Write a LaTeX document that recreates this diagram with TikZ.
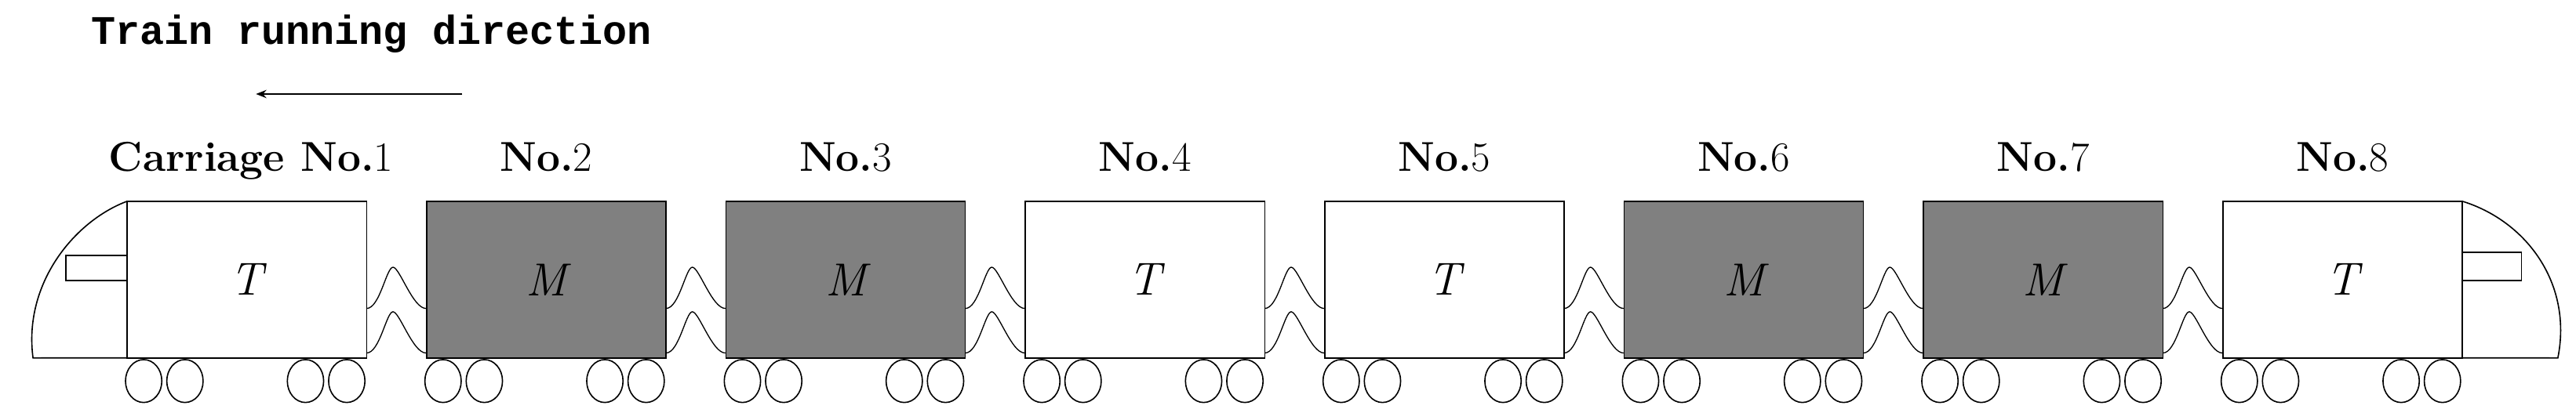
\documentclass[tikz,border=0pt]{standalone}
\usepackage{fontspec}
\newfontfamily\monofont{Liberation Mono}
\usetikzlibrary{positioning,calc,arrows.meta}
\tikzset{
  car/.style={draw, line width=1.1pt, outer sep=0pt, minimum width=7.25cm, minimum height=4.75cm, anchor=north west, inner sep=0pt, font=\fontsize{40}{44}\selectfont\itshape},
  motor/.style={car, fill=gray},
  trailer/.style={car, fill=white},
  wheel/.style={draw, line width=1.1pt},
  label/.style={font=\fontsize{36}{40}\selectfont\bfseries, anchor=base},
}
\begin{document}
\begin{tikzpicture}[x=0.05cm,y=-0.05cm]
  \useasboundingbox (0,0) rectangle (1560,254.2);
  % title and arrow
  \node[anchor=base west, inner sep=0pt, font=\monofont\bfseries\fontsize{35}{38}\selectfont] (title) at (55,27) {Train running direction};
  \coordinate (arrS) at (280,57);
  \coordinate (arrE) at (155,57);
  \draw[-{Stealth[length=9pt,width=7pt]}, line width=1.8pt] (arrS) -- (arrE);
  % carriages
  \foreach \i/\kind/\txt in {1/trailer/T,2/motor/M,3/motor/M,4/trailer/T,5/trailer/T,6/motor/M,7/motor/M,8/trailer/T}{
    \node[\kind] (c\i) at ({77+(\i-1)*181.3},122) {\txt};
    \foreach \dx in {10,35,108,133}
      \draw[wheel] ($(c\i.south west)+(\dx,14)$) ellipse [x radius=11, y radius=13];
  }
  % carriage labels
  \node[label] (l1) at (152,104) {Carriage No.\textmd{1}};
  \foreach \i in {2,...,8}
    \node[label] (l\i) at ($(c\i.north)+(0,-18)$) {No.\textmd{\i}};
  % couplers
  \foreach \i [evaluate=\i as \j using int(\i+1)] in {1,...,7}
    \foreach \dy in {30,3}{
      \coordinate (a) at ($(c\i.south east)+(0,-\dy)$);
      \draw[line width=0.9pt] (a) .. controls +(8,0) and +(-4,0) .. ++(16,-25)
        .. controls +(4,0) and +(-8,0) .. ++(20,25);
    }
  % noses
  \draw[line width=1.1pt] (c1.north west) .. controls (45,134) and (14,172) .. (20,217) -- (c1.south west);
  \draw[line width=1.1pt] (40,155) rectangle (c1.west |- 0,170);
  \draw[line width=1.1pt] (c8.north east) .. controls (1530,134) and (1558,172) .. (1549,217) -- (c8.south east);
  \draw[line width=1.1pt] (c8.east |- 0,153) rectangle (1527,170);
\end{tikzpicture}
\end{document}
